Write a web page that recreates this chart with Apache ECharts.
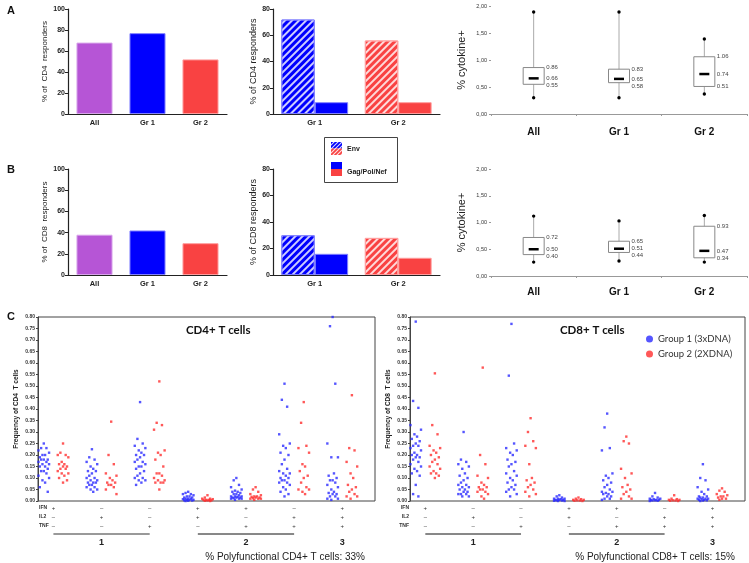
<!DOCTYPE html>
<html><head><meta charset="utf-8">
<script src="https://cdn.jsdelivr.net/npm/echarts/dist/echarts.min.js"></script>
<style>html,body{margin:0;padding:0;background:#fff}#c{width:749px;height:563px}</style>
</head><body><div id="c"></div>
<script>
// ---------- data ----------
const barCats = ['All', 'Gr 1', 'Gr 2'];
const cd4Resp = [68, 77, 52];
const cd8Resp = [38, 42, 30];
const grpCats = ['Gr 1', 'Gr 2'];
const cd4Env = [72, 56];
const cd4Gpn = [9, 9];
const cd8Env = [30, 28];
const cd8Gpn = [16, 13];
const boxCats = ['All', 'Gr 1', 'Gr 2'];
// [min, q1, median, q3, max]
const cd4Box = [[0.30, 0.55, 0.66, 0.86, 1.89], [0.30, 0.58, 0.65, 0.83, 1.89], [0.37, 0.51, 0.74, 1.06, 1.39]];
const cd8Box = [[0.26, 0.40, 0.50, 0.72, 1.12], [0.28, 0.44, 0.51, 0.65, 1.03], [0.26, 0.34, 0.47, 0.93, 1.13]];
const rowNames = ['IFN', 'IL2', 'TNF'];
const ifnSigns = ['+', '–', '–', '+', '+', '–', '+'];
const il2Signs = ['–', '+', '–', '+', '–', '+', '+'];
const tnfSigns = ['–', '–', '+', '–', '+', '+', '+'];
const groupLabels = ['1', '2', '3'];
const cd4G1 = [
  [0.25,0.23,0.23,0.22,0.21,0.20,0.20,0.19,0.18,0.18,0.18,0.17,0.17,0.16,0.16,0.15,0.15,0.14,0.13,0.13,0.12,0.11,0.10,0.09,0.08,0.06,0.04],
  [0.225,0.19,0.18,0.17,0.16,0.15,0.14,0.13,0.13,0.12,0.11,0.10,0.10,0.09,0.09,0.08,0.08,0.08,0.07,0.07,0.06,0.06,0.05,0.05,0.04],
  [0.43,0.27,0.25,0.24,0.23,0.22,0.21,0.20,0.20,0.19,0.18,0.17,0.17,0.16,0.15,0.15,0.14,0.13,0.12,0.11,0.10,0.10,0.09,0.09,0.08,0.07],
  [0.04,0.035,0.03,0.03,0.025,0.02,0.02,0.015,0.015,0.01,0.01,0.01,0.008,0.005,0.005,0.005,0.003,0.002,0.001,0],
  [0.10,0.09,0.07,0.06,0.05,0.045,0.04,0.04,0.035,0.03,0.03,0.025,0.02,0.02,0.02,0.018,0.015,0.015,0.015,0.012,0.01,0.01,0.01,0.005],
  [0.51,0.44,0.41,0.29,0.25,0.24,0.23,0.21,0.20,0.18,0.16,0.14,0.13,0.12,0.12,0.11,0.10,0.10,0.09,0.09,0.08,0.08,0.07,0.06,0.05,0.04,0.03,0.02],
  [0.80,0.76,0.51,0.25,0.19,0.19,0.12,0.11,0.10,0.09,0.09,0.08,0.07,0.06,0.05,0.04,0.035,0.03,0.03,0.02,0.02,0.01,0.01,0.005]
];
const cd4G2 = [
  [0.25,0.21,0.20,0.20,0.19,0.17,0.16,0.16,0.15,0.15,0.14,0.14,0.13,0.12,0.12,0.11,0.10,0.09,0.08],
  [0.345,0.20,0.16,0.12,0.11,0.10,0.09,0.08,0.08,0.07,0.07,0.06,0.05,0.03],
  [0.52,0.34,0.33,0.31,0.22,0.21,0.20,0.18,0.15,0.12,0.12,0.11,0.10,0.09,0.09,0.08,0.08,0.08,0.05],
  [0.025,0.015,0.01,0.01,0.008,0.005,0.005,0.005,0.003,0.002,0.001,0],
  [0.06,0.05,0.04,0.03,0.025,0.02,0.02,0.018,0.015,0.015,0.012,0.01,0.01,0.01,0.005],
  [0.43,0.34,0.24,0.23,0.21,0.16,0.15,0.13,0.11,0.10,0.08,0.06,0.05,0.05,0.04,0.03],
  [0.46,0.23,0.22,0.17,0.15,0.12,0.10,0.07,0.06,0.05,0.04,0.03,0.02,0.02,0.01]
];
const cd8G1 = [
  [0.78,0.435,0.405,0.33,0.31,0.29,0.28,0.27,0.26,0.25,0.24,0.24,0.23,0.22,0.21,0.20,0.20,0.19,0.19,0.18,0.17,0.16,0.15,0.14,0.13,0.12,0.11,0.07,0.03,0.02],
  [0.30,0.18,0.17,0.16,0.15,0.14,0.12,0.11,0.10,0.09,0.08,0.07,0.07,0.06,0.06,0.05,0.05,0.04,0.04,0.03,0.03,0.03,0.02,0.02],
  [0.77,0.545,0.25,0.23,0.22,0.21,0.20,0.18,0.17,0.16,0.15,0.13,0.12,0.11,0.10,0.09,0.08,0.07,0.06,0.05,0.05,0.04,0.03,0.02],
  [0.025,0.02,0.015,0.01,0.01,0.01,0.008,0.005,0.005,0.005,0.003,0.002,0.001,0,0],
  [0.38,0.32,0.23,0.22,0.12,0.11,0.10,0.09,0.08,0.07,0.06,0.05,0.04,0.04,0.035,0.03,0.03,0.02,0.02,0.01,0.01,0.005],
  [0.035,0.02,0.015,0.01,0.01,0.008,0.005,0.005,0.005,0.003,0.002,0.001,0],
  [0.16,0.10,0.09,0.06,0.05,0.04,0.03,0.02,0.02,0.015,0.015,0.01,0.01,0.01,0.008,0.005,0.005,0.003,0.002,0]
];
const cd8G2 = [
  [0.555,0.33,0.29,0.24,0.23,0.22,0.21,0.20,0.19,0.18,0.17,0.16,0.15,0.14,0.13,0.12,0.12,0.11,0.10],
  [0.58,0.20,0.16,0.11,0.10,0.08,0.07,0.06,0.06,0.05,0.05,0.04,0.04,0.03,0.02,0.01],
  [0.36,0.30,0.26,0.24,0.23,0.16,0.10,0.09,0.08,0.07,0.06,0.05,0.04,0.03,0.02],
  [0.015,0.01,0.008,0.005,0.005,0.003,0.002,0.001,0],
  [0.28,0.26,0.25,0.14,0.12,0.10,0.07,0.06,0.05,0.04,0.03,0.02,0.01,0.01],
  [0.025,0.01,0.008,0.005,0.005,0.003,0.002,0.001,0],
  [0.055,0.045,0.04,0.03,0.025,0.02,0.02,0.015,0.01,0.01,0.005]
];
const g1Name = 'Group 1 (3xDNA)';
const g2Name = 'Group 2 (2XDNA)';

// ---------- styles ----------
const AR = 'Liberation Sans';
const CAL = 'Lato';
const barColors = ['#b655d6', '#0000fe', '#f94242'];
const barBorders = ['#d7a3ea', '#8080ff', '#ff9c9c'];
const grpColors = ['#0000fe', '#f94242'];
const grpBorders = ['#8080ff', '#ff9c9c'];
const hatch = {symbol: 'rect', symbolSize: 1, color: 'rgba(255,255,255,0.8)', dashArrayX: [1, 0], dashArrayY: [1.3, 2.6], rotation: -Math.PI / 4};
const dotBlue = '#2a2aff', dotRed = '#ff2e2e';

const grids = [
  {left: 68, top: 9, width: 159, height: 105},
  {left: 273, top: 9, width: 167, height: 105},
  {left: 491, top: 6, width: 256, height: 108},
  {left: 68, top: 169, width: 159, height: 106},
  {left: 273, top: 169, width: 167, height: 106},
  {left: 491, top: 169, width: 256, height: 107},
  {left: 38, top: 317, width: 337, height: 184, show: true, borderColor: '#444', borderWidth: 1},
  {left: 410, top: 317, width: 335, height: 184, show: true, borderColor: '#444', borderWidth: 1}
];

function barY(gi, name, nameGap, nameSize, max, interval) {
  return {gridIndex: gi, type: 'value', min: 0, max: max, interval: interval,
    axisLine: {show: true, lineStyle: {color: '#222', width: 1.2}},
    axisTick: {show: true, length: 3, lineStyle: {color: '#222'}},
    splitLine: {show: false},
    axisLabel: {fontSize: 7, fontWeight: 'bold', color: '#222', margin: 3, fontFamily: AR},
    name: name, nameLocation: 'middle', nameGap: nameGap,
    nameTextStyle: {fontSize: nameSize, color: '#222', fontFamily: AR}};
}
function barX(gi, cats) {
  return {gridIndex: gi, type: 'category', data: cats,
    axisLine: {lineStyle: {color: '#222', width: 1.2}},
    axisTick: {alignWithLabel: true, length: 3, lineStyle: {color: '#222'}},
    axisLabel: {fontSize: 7.5, fontWeight: 'bold', color: '#222', margin: 5, fontFamily: AR}};
}
function boxX(gi, margin) {
  return {gridIndex: gi, type: 'category', data: boxCats,
    axisLine: {lineStyle: {color: '#999', width: 1}},
    axisTick: {show: true, length: 2, lineStyle: {color: '#999'}},
    axisLabel: {fontSize: 10, fontWeight: 'bold', color: '#111', margin: margin, fontFamily: AR}};
}
function boxY(gi) {
  return {gridIndex: gi, type: 'value', min: 0, max: 2, interval: 0.5,
    axisLine: {show: false}, axisTick: {show: true, length: 2, lineStyle: {color: '#999'}},
    splitLine: {show: false},
    axisLabel: {fontSize: 5.5, color: '#333', margin: 4, fontFamily: AR, formatter: v => v.toFixed(2).replace('.', ',')},
    name: '% cytokine+', nameLocation: 'middle', nameGap: 24,
    nameTextStyle: {fontSize: 11, color: '#222', fontFamily: AR}};
}
function scX(gi) {
  return {gridIndex: gi, type: 'value', min: 0.68, max: 7.68, show: false};
}
function scY(gi, name) {
  return {gridIndex: gi, type: 'value', min: 0, max: 0.8, interval: 0.05,
    axisLine: {show: true, lineStyle: {color: '#444'}},
    axisTick: {show: true, length: 2, lineStyle: {color: '#444'}},
    splitLine: {show: false},
    axisLabel: {fontSize: 5, fontWeight: 'bold', color: '#333', margin: 3, fontFamily: AR, formatter: v => v.toFixed(2)},
    name: name, nameLocation: 'middle', nameGap: 18,
    nameTextStyle: {fontSize: 6.5, fontWeight: 'bold', color: '#222', fontFamily: AR}};
}

function simpleBar(gi, vals) {
  return {type: 'bar', xAxisIndex: gi, yAxisIndex: gi, barWidth: '68%',
    data: vals.map((v, i) => ({value: v, itemStyle: {color: barColors[i], borderColor: barBorders[i], borderWidth: 1}}))};
}
function grpBar(gi, vals, name, hatched) {
  return {type: 'bar', name: name, xAxisIndex: gi, yAxisIndex: gi, barGap: '0%', barCategoryGap: '20%',
    data: vals.map((v, i) => ({value: v, itemStyle: Object.assign({color: grpColors[i], borderColor: grpBorders[i], borderWidth: 1}, hatched ? {decal: hatch} : {})}))};
}

function boxRender(params, api) {
  const i = api.value(0);
  const mn = api.value(1), q1 = api.value(2), md = api.value(3), q3 = api.value(4), mx = api.value(5);
  const pMax = api.coord([i, mx]), pMin = api.coord([i, mn]);
  const pQ1 = api.coord([i, q1]), pMd = api.coord([i, md]), pQ3 = api.coord([i, q3]);
  const cx = pMd[0];
  const bw = 21;
  const ly3 = pQ3[1];
  const lym = Math.max(pMd[1], ly3 + 7);
  const ly1 = Math.max(pQ1[1], lym + 7);
  const tx = cx + bw / 2 + 2;
  const ts = {fontSize: 6, fill: '#444', fontFamily: AR, verticalAlign: 'middle', align: 'left'};
  return {type: 'group', children: [
    {type: 'line', shape: {x1: cx, y1: pMax[1], x2: cx, y2: pMin[1]}, style: {stroke: '#aaa', lineWidth: 1}},
    {type: 'rect', shape: {x: cx - bw / 2, y: pQ3[1], width: bw, height: pQ1[1] - pQ3[1]}, style: {fill: '#fff', stroke: '#888', lineWidth: 1}},
    {type: 'line', shape: {x1: cx - 5, y1: pMd[1], x2: cx + 5, y2: pMd[1]}, style: {stroke: '#000', lineWidth: 2.5}},
    {type: 'circle', shape: {cx: cx, cy: pMax[1], r: 1.7}, style: {fill: '#000'}},
    {type: 'circle', shape: {cx: cx, cy: pMin[1], r: 1.7}, style: {fill: '#000'}},
    {type: 'text', x: tx, y: ly3, style: Object.assign({text: q3.toFixed(2)}, ts)},
    {type: 'text', x: tx, y: lym, style: Object.assign({text: md.toFixed(2)}, ts)},
    {type: 'text', x: tx, y: ly1, style: Object.assign({text: q1.toFixed(2)}, ts)}
  ]};
}
function boxSeries(gi, box) {
  return {type: 'custom', xAxisIndex: gi, yAxisIndex: gi, renderItem: boxRender,
    data: box.map((b, i) => [i].concat(b))};
}

const jit = [0, -1, 1, -2, 2, -0.5, 0.5, -1.5, 1.5];
function scPoints(cols, off) {
  const pts = [];
  cols.forEach((col, c) => col.forEach((v, k) => pts.push([c + 1 + off + jit[k % jit.length] * 0.055, v])));
  return pts;
}
function scSeries(gi, cols, name, color, off) {
  return {type: 'scatter', name: name, xAxisIndex: gi, yAxisIndex: gi, symbol: 'rect', symbolSize: 2.4,
    itemStyle: {color: color}, data: scPoints(cols, off), clip: false};
}

const option = {
  animation: false,
  backgroundColor: '#fff',
  title: [
    {text: 'A', left: 2, top: 0, textStyle: {fontSize: 11, fontWeight: 'bold', fontFamily: AR, color: '#111'}},
    {text: 'B', left: 2, top: 159, textStyle: {fontSize: 11, fontWeight: 'bold', fontFamily: AR, color: '#111'}},
    {text: 'C', left: 2, top: 306, textStyle: {fontSize: 11, fontWeight: 'bold', fontFamily: AR, color: '#111'}},
    {text: 'CD4+ T cells', left: 181, top: 319, textStyle: {fontSize: 11.5, fontWeight: 'bold', fontFamily: CAL, color: '#111'}},
    {text: 'CD8+ T cells', left: 555, top: 319, textStyle: {fontSize: 11.5, fontWeight: 'bold', fontFamily: CAL, color: '#111'}}
  ],
  legend: {data: [g1Name, g2Name], orient: 'vertical', left: 641, top: 329, icon: 'circle', itemWidth: 7, itemHeight: 7, itemGap: 5,
    textStyle: {fontSize: 9.5, fontFamily: CAL, color: '#333'}},
  grid: grids,
  xAxis: [barX(0, barCats), barX(1, grpCats), boxX(2, 13), barX(3, barCats), barX(4, grpCats), boxX(5, 11), scX(6), scX(7)],
  yAxis: [barY(0, '% of  CD4  responders', 19, 8, 100, 20), barY(1, '% of CD4 responders', 15, 9, 80, 20), boxY(2),
          barY(3, '% of  CD8  responders', 19, 8, 100, 20), barY(4, '% of CD8 responders', 15, 9, 80, 20), boxY(5),
          scY(6, 'Frequency of CD4  T cells'), scY(7, 'Frequency of CD8  T cells')],
  series: [
    simpleBar(0, cd4Resp),
    grpBar(1, cd4Env, 'Env', true), grpBar(1, cd4Gpn, 'Gag/Pol/Nef', false),
    boxSeries(2, cd4Box),
    simpleBar(3, cd8Resp),
    grpBar(4, cd8Env, 'Env', true), grpBar(4, cd8Gpn, 'Gag/Pol/Nef', false),
    boxSeries(5, cd8Box),
    scSeries(6, cd4G1, g1Name, dotBlue, -0.2), scSeries(6, cd4G2, g2Name, dotRed, 0.2),
    scSeries(7, cd8G1, g1Name, dotBlue, -0.2), scSeries(7, cd8G2, g2Name, dotRed, 0.2)
  ]
};

const chart = echarts.init(document.getElementById('c'), null, {renderer: 'canvas'});
chart.setOption(option);

// ---------- extra graphics: legend box for Env / Gag/Pol/Nef, tables under C ----------
function stripePattern(color) {
  const cv = document.createElement('canvas');
  cv.width = 4; cv.height = 4;
  const cx = cv.getContext('2d');
  cx.fillStyle = color; cx.fillRect(0, 0, 4, 4);
  cx.strokeStyle = 'rgba(255,255,255,0.85)'; cx.lineWidth = 1.1;
  cx.beginPath(); cx.moveTo(0, 4); cx.lineTo(4, 0); cx.moveTo(-1, 1); cx.lineTo(1, -1); cx.moveTo(3, 5); cx.lineTo(5, 3); cx.stroke();
  return {image: cv, repeat: 'repeat'};
}
const g = [];
g.push({type: 'rect', shape: {x: 324.5, y: 137.5, width: 73, height: 45}, style: {fill: '#fff', stroke: '#444', lineWidth: 1}});
g.push({type: 'rect', shape: {x: 331, y: 142, width: 11, height: 6.5}, style: {fill: stripePattern(grpColors[0])}});
g.push({type: 'rect', shape: {x: 331, y: 148.5, width: 11, height: 6.5}, style: {fill: stripePattern(grpColors[1])}});
g.push({type: 'text', x: 347, y: 149, style: {text: 'Env', fontSize: 7, fontWeight: 'bold', fontFamily: AR, fill: '#222', verticalAlign: 'middle'}});
g.push({type: 'rect', shape: {x: 331, y: 162, width: 11, height: 7}, style: {fill: grpColors[0]}});
g.push({type: 'rect', shape: {x: 331, y: 169, width: 11, height: 7}, style: {fill: grpColors[1]}});
g.push({type: 'text', x: 347, y: 172.5, style: {text: 'Gag/Pol/Nef', fontSize: 7, fontWeight: 'bold', fontFamily: AR, fill: '#222', verticalAlign: 'middle'}});

const signRows = [ifnSigns, il2Signs, tnfSigns];
[6, 7].forEach((gi, p) => {
  const gr = grids[gi];
  const bottom = gr.top + gr.height;
  const right = gr.left + gr.width;
  const px = i => chart.convertToPixel({gridIndex: gi}, [i, 0])[0];
  rowNames.forEach((rn, r) => {
    const y = bottom + 7 + r * 9;
    g.push({type: 'text', x: p === 0 ? gr.left + 1 : gr.left - 1, y: y,
      style: {text: rn, fontSize: 5, fontWeight: 'bold', fontFamily: AR, fill: '#333', verticalAlign: 'middle', align: p === 0 ? 'left' : 'right'}});
    signRows[r].forEach((s, c) => {
      g.push({type: 'text', x: px(c + 1), y: y,
        style: {text: s, fontSize: 6, fontFamily: AR, fill: '#333', verticalAlign: 'middle', align: 'center'}});
    });
  });
  const ly = bottom + 33;
  g.push({type: 'line', shape: {x1: px(1), y1: ly, x2: px(3), y2: ly}, style: {stroke: p === 0 ? '#777' : '#111', lineWidth: p === 0 ? 1.6 : 1}});
  g.push({type: 'line', shape: {x1: px(4), y1: ly, x2: px(6), y2: ly}, style: {stroke: '#111', lineWidth: 1}});
  [2, 5, 7].forEach((i, k) => {
    g.push({type: 'text', x: px(i), y: bottom + 42,
      style: {text: groupLabels[k], fontSize: 9, fontWeight: 'bold', fontFamily: AR, fill: '#222', verticalAlign: 'middle', align: 'center'}});
  });
  g.push({type: 'text', x: right - 10, y: bottom + 56,
    style: {text: '% Polyfunctional ' + (p === 0 ? 'CD4+' : 'CD8+') + ' T cells: ' + (p === 0 ? '33%' : '15%'),
      fontSize: 10, fontFamily: AR, fill: '#222', verticalAlign: 'middle', align: 'right'}});
});
chart.setOption({graphic: {elements: g}});
</script>
</body></html>
